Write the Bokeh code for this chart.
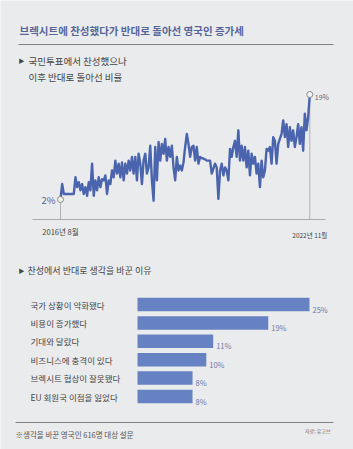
from bokeh.plotting import figure
from bokeh.models import Range1d
from bokeh.core.properties import value
from bokeh.embed import file_html
from bokeh.resources import INLINE

# ---------------- data ----------------
title_text = "브렉시트에 찬성했다가 반대로 돌아선 영국인 증가세"
line_subtitle = ["국민투표에서 찬성했으나", "이후 반대로 돌아선 비율"]
bar_subtitle = "찬성에서 반대로 생각을 바꾼 이유"
start_label = "2016년 8월"
end_label = "2022년 11월"

trend_values = [
    2.0, 4.5, 2.9, 2.9, 2.9, 2.9, 2.9, 2.9, 2.9, 5.6, 4.0, 4.8, 3.5, 4.5, 2.9, 4.0,
    2.6, 4.8, 3.5, 7.8, 2.6, 5.1, 3.5, 5.6, 4.0, 5.3, 5.1, 5.9, 2.9, 5.1, 4.5, 6.7,
    5.6, 8.3, 6.2, 7.8, 5.6, 8.0, 5.1, 7.8, 6.2, 8.3, 6.7, 8.9, 6.2, 8.9, 5.1, 9.4,
    7.8, 4.5, 8.3, 9.4, 6.2, 7.2, 10.7, 5.1, 1.8, 10.5, 5.1, 11.3, 8.3, 11.0, 9.4,
    11.8, 8.3, 10.5, 8.9, 10.7, 7.2, 5.1, 8.9, 6.7, 7.5, 6.7, 8.0, 10.5, 12.6, 11.0,
    8.9, 10.5, 10.7, 8.3, 10.5, 7.8, 8.9, 8.7, 8.6, 8.5, 8.3, 8.3, 8.3, 6.2, 7.0,
    7.8, 7.2, 2.1, 6.7, 7.8, 5.9, 7.2, 6.7, 5.1, 10.2, 8.9, 10.5, 11.5, 8.9, 13.2,
    8.3, 10.7, 8.3, 10.5, 7.2, 9.9, 5.9, 9.4, 7.8, 8.9, 6.2, 7.8, 4.0, 8.3, 5.6, 6.7,
    10.2, 9.9, 10.5, 7.8, 12.1, 11.5, 7.8, 11.0, 11.8, 12.6, 14.8, 12.1, 14.2, 10.5,
    13.7, 11.5, 13.2, 10.5, 12.1, 14.2, 11.0, 13.7, 9.9, 15.9, 13.2, 15.3, 19.0,
]

reasons = [
    "국가 상황이 악화됐다",
    "비용이 증가했다",
    "기대와 달랐다",
    "비즈니스에 충격이 있다",
    "브렉시트 협상이 잘못됐다",
    "EU 회원국 이점을 잃었다",
]
reason_pcts = [25, 19, 11, 10, 8, 8]

footnote = "※생각을 바꾼 영국인 616명 대상 설문"
source_text = "자료: 유고브"

# ---------------- style ----------------
W, H = 353, 449
BG = "#eaebed"
LINE_C = "#4a64ad"
BAR_C = "#6682c2"
TITLE_C = "#56669a"
TEXT_C = "#454545"
VAL_C = "#6b78a3"
FONT = value("Noto Sans CJK KR")

p = figure(width=W, height=H, x_range=Range1d(0, W), y_range=Range1d(H, 0),
           output_backend="svg", toolbar_location=None, min_border=0,
           x_axis_type=None, y_axis_type=None)
p.grid.visible = False
p.outline_line_color = None
p.background_fill_color = BG
p.border_fill_color = BG

# ---- scales for line chart ----
n = len(trend_values)
LX0, LX1 = 60.0, 309.3
step = (LX1 - LX0) / (n - 1)
p.extra_x_ranges["t"] = Range1d(-LX0 / step, (W - LX0) / step)
V_PY0, V_PX = 199.0, 105.0 / 17.0   # pixel of 2%, px per %
v_ref = trend_values[0]
p.extra_y_ranges["v"] = Range1d(v_ref - (H - V_PY0) / V_PX, v_ref + V_PY0 / V_PX)
BASE_PY = 219.0
base_v = v_ref - (BASE_PY - V_PY0) / V_PX

# ---- scales for bar chart ----
BX0, PCT_PX = 137.0, 6.88
p.extra_x_ranges["pct"] = Range1d(-BX0 / PCT_PX, (W - BX0) / PCT_PX)
ROW0, ROW_STEP = 304.0, 18.4
p.extra_y_ranges["row"] = Range1d((H - ROW0) / ROW_STEP, -ROW0 / ROW_STEP)

# ---- header ----
p.text(x=[19], y=[30], text=[title_text], text_font=FONT, text_font_size="10.5px",
       text_font_style="bold", text_color=TITLE_C, text_baseline="middle")
p.segment(x0=[18], y0=[44], x1=[333], y1=[44], line_color="#666666", line_width=0.8)
p.text(x=[18], y=[60], text=["▶"], text_font=FONT, text_font_size="6px",
       text_color=TEXT_C, text_baseline="middle")
p.text(x=[28, 28], y=[60, 76], text=line_subtitle, text_font=FONT, text_font_size="9.5px",
       text_color=TEXT_C, text_baseline="middle")

# ---- line chart ----
xs = list(range(n))
p.segment(x0=[32], y0=[BASE_PY], x1=[325], y1=[BASE_PY], line_color="#9a9a9a", line_width=0.8)
p.segment(x0=[0, n - 1], y0=[trend_values[0], trend_values[-1]], x1=[0, n - 1], y1=[base_v, base_v],
          x_range_name="t", y_range_name="v", line_color="#9a9a9a", line_width=0.7)
p.line(xs, trend_values, x_range_name="t", y_range_name="v", line_color=LINE_C,
       line_width=2.4, line_join="round")
p.scatter([0, n - 1], [trend_values[0], trend_values[-1]], x_range_name="t", y_range_name="v",
          size=6, fill_color="#f4f4f4", line_color="#8a8a8a", line_width=1)
p.text(x=[0], y=[trend_values[0]], text=[f"{trend_values[0]:g}%"], x_range_name="t",
       y_range_name="v", x_offset=-5, text_align="right", text_baseline="middle",
       text_font=FONT, text_font_size="9.5px", text_color=TITLE_C)
p.text(x=[n - 1], y=[trend_values[-1]], text=[f"{trend_values[-1]:g}%"], x_range_name="t",
       y_range_name="v", x_offset=5, y_offset=2, text_align="left", text_baseline="middle",
       text_font=FONT, text_font_size="7px", text_color="#6a6a6a")
p.text(x=[LX0], y=[231], text=[start_label], text_align="center", text_baseline="middle",
       text_font=FONT, text_font_size="7.5px", text_color=TEXT_C)
p.text(x=[LX1], y=[234], text=[end_label], text_align="center", text_baseline="middle",
       text_font=FONT, text_font_size="6.5px", text_color=TEXT_C)

# ---- bar chart ----
p.text(x=[18], y=[270], text=["▶"], text_font=FONT, text_font_size="6px",
       text_color=TEXT_C, text_baseline="middle")
p.text(x=[27], y=[270], text=[bar_subtitle], text_font=FONT, text_font_size="9px",
       text_color=TEXT_C, text_baseline="middle")
rows = list(range(len(reasons)))
p.hbar(y=rows, left=0, right=reason_pcts, height=13.5 / ROW_STEP, x_range_name="pct",
       y_range_name="row", fill_color=BAR_C, line_color=None)
label_x = (30 - BX0) / PCT_PX
p.text(x=[label_x] * len(rows), y=rows, text=reasons, x_range_name="pct", y_range_name="row",
       text_font=FONT, text_font_size="8.5px", text_color=TEXT_C, text_baseline="middle")
p.text(x=reason_pcts, y=[r + 0.25 for r in rows], text=[f"{v}%" for v in reason_pcts],
       x_range_name="pct", y_range_name="row", x_offset=3, text_font=FONT,
       text_font_size="7.5px", text_color=VAL_C, text_baseline="middle")

# ---- footer ----
p.segment(x0=[15], y0=[422], x1=[333], y1=[422], line_color="#666666", line_width=0.8)
p.text(x=[15], y=[434], text=[footnote], text_font=FONT, text_font_size="7.5px",
       text_color="#555555", text_baseline="middle")
p.text(x=[330], y=[430], text=[source_text], text_font=FONT, text_font_size="5px",
       text_color="#666666", text_baseline="middle", text_align="right")

open("out.html", "w").write(file_html(p, INLINE))
